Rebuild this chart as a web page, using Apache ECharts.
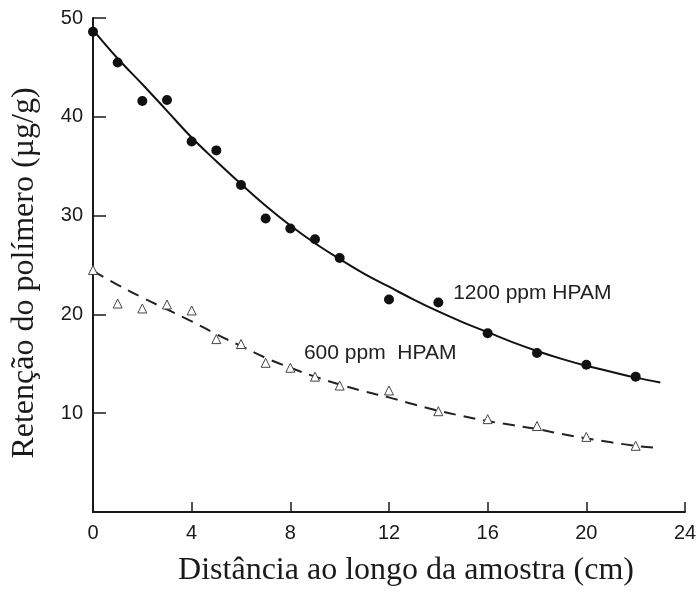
<!DOCTYPE html>
<html>
<head>
<meta charset="utf-8">
<script src="https://cdn.jsdelivr.net/npm/echarts@6/dist/echarts.min.js"></script>
<style>
html,body{margin:0;padding:0;background:#fff;}
#chart{width:700px;height:592px;}
</style>
</head>
<body>
<div id="chart"></div>
<script>
// Measured points (filled circles) – 1200 ppm HPAM
var dist1200 = [0, 1, 2, 3, 4, 5, 6, 7, 8, 9, 10, 12, 14, 16, 18, 20, 22];
var ret1200  = [48.6, 45.5, 41.6, 41.7, 37.5, 36.6, 33.1, 29.7, 28.7, 27.6, 25.7, 21.5, 21.2, 18.1, 16.1, 14.9, 13.7];

// Measured points (open triangles) – 600 ppm HPAM
var dist600 = [0, 1, 2, 3, 4, 5, 6, 7, 8, 9, 10, 12, 14, 16, 18, 20, 22];
var ret600  = [24.5, 21.1, 20.6, 21.0, 20.4, 17.5, 17.0, 15.1, 14.6, 13.7, 12.8, 12.3, 10.2, 9.4, 8.7, 7.6, 6.7];

// Fitted curves
var fitDist = [0, 1, 2, 3, 4, 5, 6, 7, 8, 9, 10, 11, 12, 13, 14, 15, 16, 17, 18, 19, 20, 21, 22, 23];
var fit1200 = [48.8, 45.9, 43.3, 40.6, 37.9, 35.5, 33.2, 31.0, 29.0, 27.2, 25.6, 24.1, 22.8, 21.5, 20.3, 19.2, 18.2, 17.2, 16.3, 15.5, 14.8, 14.2, 13.6, 13.1];
var fit600  = [24.4, 23.0, 21.7, 20.5, 19.3, 18.0, 16.8, 15.6, 14.6, 13.7, 12.9, 12.2, 11.6, 10.9, 10.25, 9.7, 9.2, 8.8, 8.4, 7.9, 7.45, 7.05, 6.7, 6.45];

var xTicks = [0, 4, 8, 12, 16, 20, 24];
var yTicks = [10, 20, 30, 40, 50];

var seriesNames = ['1200 ppm HPAM', '600 ppm  HPAM'];
var xTitle = 'Distância ao longo da amostra (cm)';
var yTitle = 'Retenção do polímero (µg/g)';

function pairs(xs, ys) { return xs.map(function (x, i) { return [x, ys[i]]; }); }

var chart = echarts.init(document.getElementById('chart'), null, {renderer: 'canvas'});
var ink = '#1a1a1a';
chart.setOption({
  animation: false,
  backgroundColor: '#ffffff',
  grid: {left: 93, right: 15, top: 18, bottom: 77, containLabel: false},
  xAxis: {
    type: 'value', min: xTicks[0], max: xTicks[xTicks.length - 1], interval: 4,
    name: xTitle, nameLocation: 'middle', nameGap: 43,
    nameTextStyle: {fontFamily: 'Liberation Serif', fontSize: 32, color: ink, padding: [0, 0, 0, 34]},
    axisLine: {lineStyle: {color: ink, width: 2}},
    axisTick: {inside: true, length: 10, lineStyle: {color: ink, width: 1.5}},
    axisLabel: {fontFamily: 'Liberation Sans', fontSize: 20, color: ink, margin: 11,
      formatter: function (v) { return xTicks.indexOf(v) >= 0 ? String(v) : ''; }},
    splitLine: {show: false}
  },
  yAxis: {
    type: 'value', min: 0, max: yTicks[yTicks.length - 1], interval: 10,
    name: yTitle, nameLocation: 'middle', nameGap: 52, nameRotate: 90,
    nameTextStyle: {fontFamily: 'Liberation Serif', fontSize: 32, color: ink, padding: [0, 16, 0, 0]},
    axisLine: {lineStyle: {color: ink, width: 2}},
    axisTick: {inside: true, length: 13, lineStyle: {color: ink, width: 1.5}},
    axisLabel: {fontFamily: 'Liberation Sans', fontSize: 20, color: ink, margin: 10, showMinLabel: false,
      formatter: function (v) { return yTicks.indexOf(v) >= 0 ? String(v) : ''; }},
    splitLine: {show: false}
  },
  series: [
    {
      name: seriesNames[0] + ' fit', type: 'line', smooth: 0.4, showSymbol: false,
      data: pairs(fitDist, fit1200),
      lineStyle: {color: '#111', width: 2}, z: 2
    },
    {
      name: seriesNames[1] + ' fit', type: 'line', smooth: 0.4, showSymbol: false,
      data: pairs(fitDist, fit600),
      lineStyle: {color: '#222', width: 2, type: [12, 8]}, z: 2
    },
    {
      name: seriesNames[0], type: 'scatter', symbol: 'circle', symbolSize: 10,
      data: pairs(dist1200, ret1200),
      itemStyle: {color: '#111', opacity: 1}, z: 3,
      markPoint: {
        symbol: 'circle', symbolSize: 0, silent: true,
        label: {show: true, position: 'right', distance: 0, formatter: seriesNames[0],
          fontFamily: 'Liberation Sans', fontSize: 21, color: '#222'},
        data: [{coord: [14.6, 22.1]}]
      }
    },
    {
      name: seriesNames[1], type: 'scatter', symbol: 'triangle', symbolSize: 9,
      data: pairs(dist600, ret600),
      itemStyle: {color: '#fff', borderColor: '#444', borderWidth: 1, opacity: 1}, z: 3,
      markPoint: {
        symbol: 'circle', symbolSize: 0, silent: true,
        label: {show: true, position: 'right', distance: 0, formatter: seriesNames[1],
          fontFamily: 'Liberation Sans', fontSize: 21, color: '#222'},
        data: [{coord: [8.55, 16.1]}]
      }
    }
  ]
});
</script>
</body>
</html>
